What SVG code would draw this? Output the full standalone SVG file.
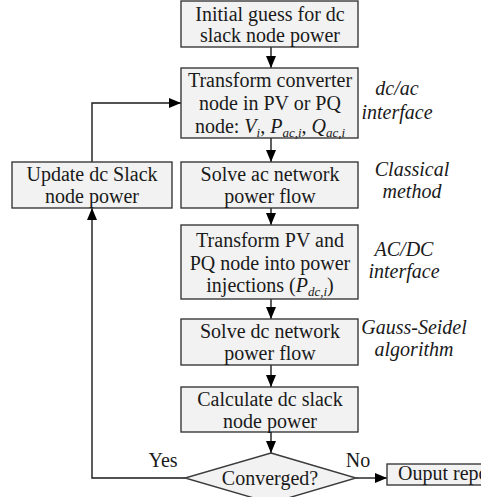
<svg xmlns="http://www.w3.org/2000/svg" width="481" height="497" viewBox="0 0 481 497">
<style>
.box{fill:#f2f2f2;stroke:#3a3a3a;stroke-width:1.4}
text{font-family:'Liberation Serif','Times New Roman','DejaVu Serif',serif;font-size:20px;fill:#1a1a1a;text-anchor:middle}
.i{font-style:italic}
.sub{font-size:13px;font-style:italic}
.lbl{font-style:italic}
.c{fill:none;stroke:#1a1a1a;stroke-width:1.4}
</style>
<defs>
<marker id="ah" viewBox="0 0 12 10" refX="12" refY="5" markerWidth="12" markerHeight="10" markerUnits="userSpaceOnUse" orient="auto">
<path d="M0,0 L12,5 L0,10 z" fill="#000"/>
</marker>
</defs>
<g id="connectors">
<line class="c" x1="271" y1="47" x2="271" y2="68" marker-end="url(#ah)"/>
<line class="c" x1="271" y1="138" x2="271" y2="162" marker-end="url(#ah)"/>
<line class="c" x1="271" y1="208" x2="271" y2="225" marker-end="url(#ah)"/>
<line class="c" x1="271" y1="299" x2="271" y2="319" marker-end="url(#ah)"/>
<line class="c" x1="271" y1="365" x2="271" y2="387" marker-end="url(#ah)"/>
<line class="c" x1="271" y1="432" x2="271" y2="453" marker-end="url(#ah)"/>
<polyline class="c" points="92,162 92,103 181,103" marker-end="url(#ah)"/>
<polyline class="c" points="185,478 92,478 92,208" marker-end="url(#ah)"/>
<line class="c" x1="356" y1="478" x2="387" y2="478" marker-end="url(#ah)"/>
<text x="163" y="467">Yes</text>
<text x="358" y="467">No</text>
</g>
<g id="n1">
<rect class="box" x="181" y="1" width="177" height="46"/>
<text x="270" y="21">Initial guess for dc</text>
<text x="270" y="42">slack node power</text>
</g>
<g id="n2">
<rect class="box" x="181" y="68" width="177" height="70"/>
<text x="270" y="87">Transform converter</text>
<text x="270" y="110">node in PV or PQ</text>
<text x="270" y="133">node: <tspan class="i">V</tspan><tspan class="sub" dy="4">i</tspan><tspan dy="-4">, </tspan><tspan class="i">P</tspan><tspan class="sub" dy="4">ac,i</tspan><tspan dy="-4">, </tspan><tspan class="i">Q</tspan><tspan class="sub" dy="4">ac,i</tspan></text>
</g>
<g id="n3">
<rect class="box" x="12" y="162" width="160" height="46"/>
<text x="92" y="181">Update dc Slack</text>
<text x="92" y="203">node power</text>
</g>
<g id="n4">
<rect class="box" x="181" y="162" width="177" height="46"/>
<text x="270" y="181">Solve ac network</text>
<text x="270" y="203">power flow</text>
</g>
<g id="n5">
<rect class="box" x="181" y="225" width="177" height="74"/>
<text x="270" y="247">Transform PV and</text>
<text x="270" y="270">PQ node into power</text>
<text x="270" y="292">injections (<tspan class="i">P</tspan><tspan class="sub" dy="4">dc,i</tspan><tspan dy="-4">)</tspan></text>
</g>
<g id="n6">
<rect class="box" x="181" y="319" width="177" height="46"/>
<text x="270" y="338">Solve dc network</text>
<text x="270" y="360">power flow</text>
</g>
<g id="n7">
<rect class="box" x="181" y="387" width="177" height="45"/>
<text x="270" y="406">Calculate dc slack</text>
<text x="270" y="428">node power</text>
</g>
<g id="n8">
<polygon class="box" points="271,453 356,478 271,503 185,478"/>
<text x="270" y="485">Converged?</text>
</g>
<g id="n9">
<rect class="box" x="387" y="464" width="130" height="21"/>
<text x="398" y="480" style="text-anchor:start">Ouput repo</text>
</g>
<g id="labels">
<text class="lbl" x="397" y="95">dc/ac</text>
<text class="lbl" x="397" y="119">interface</text>
<text class="lbl" x="412" y="176">Classical</text>
<text class="lbl" x="412" y="198">method</text>
<text class="lbl" x="404" y="256">AC/DC</text>
<text class="lbl" x="404" y="278">interface</text>
<text class="lbl" x="414" y="334">Gauss-Seidel</text>
<text class="lbl" x="414" y="356">algorithm</text>
</g>
</svg>
